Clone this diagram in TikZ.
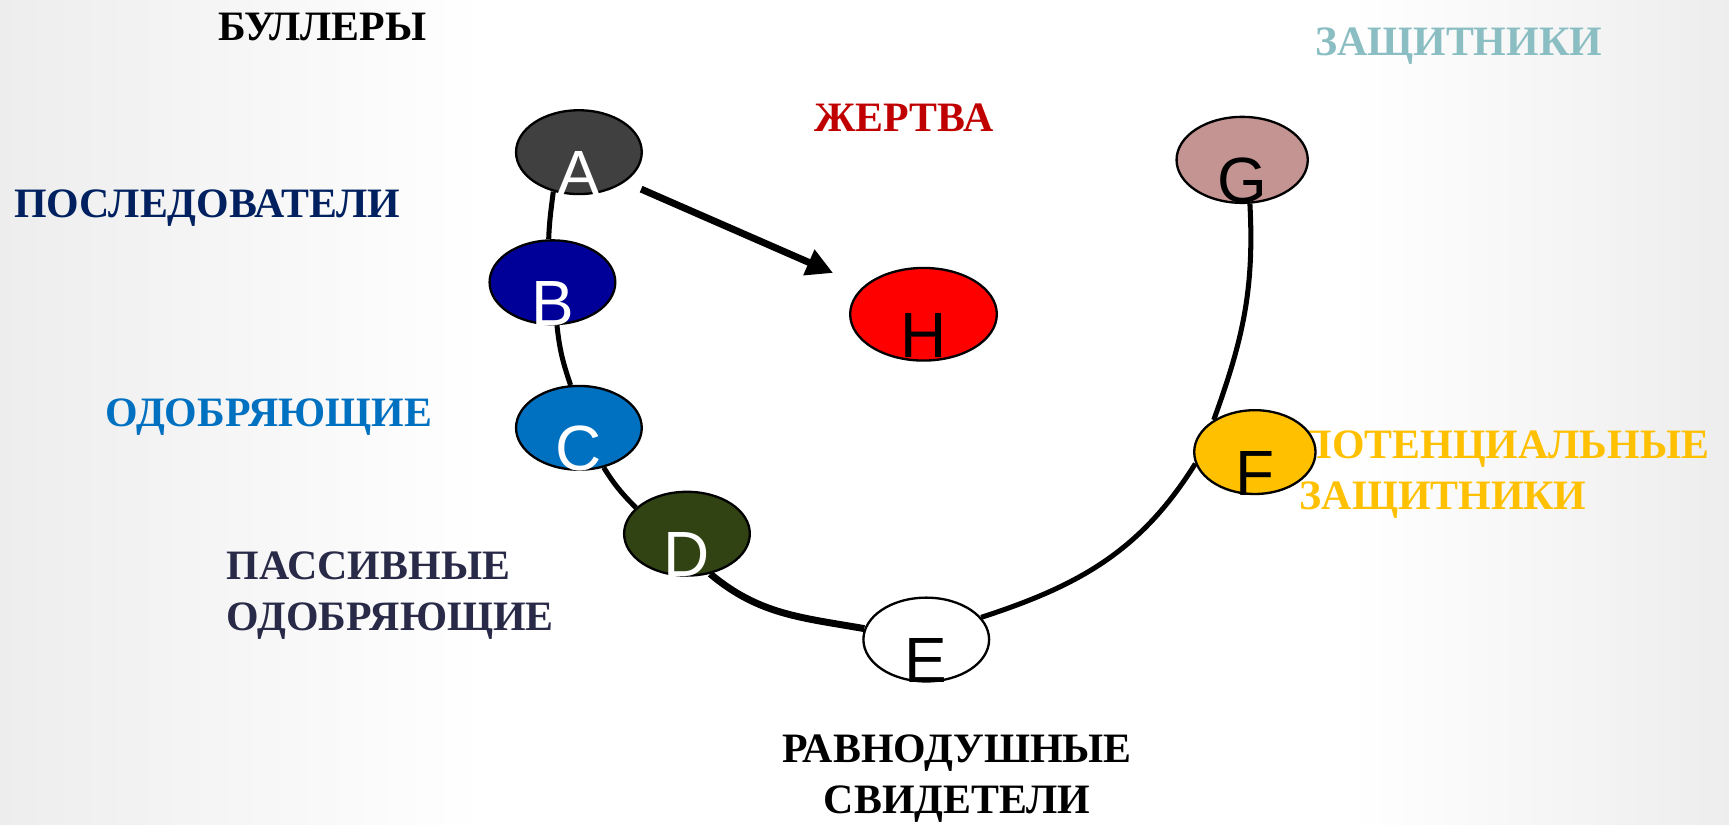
\documentclass[tikz,border=0pt]{standalone}
\usepackage{fontspec}
\setmainfont{Liberation Serif}
\newfontfamily\arialfont{Liberation Sans}
\usetikzlibrary{shapes.geometric,arrows.meta}

\definecolor{bully}{RGB}{64,64,64}
\definecolor{follow}{RGB}{0,0,153}
\definecolor{approve}{RGB}{0,112,192}
\definecolor{passive}{RGB}{50,67,19}
\definecolor{defend}{RGB}{196,148,146}
\definecolor{potent}{RGB}{255,192,0}
\definecolor{victim}{RGB}{255,0,0}
\definecolor{victimtxt}{RGB}{192,0,0}
\definecolor{followtxt}{RGB}{0,32,96}
\definecolor{passivetxt}{RGB}{40,42,72}
\definecolor{defendtxt}{RGB}{138,190,195}

\pgfdeclarehorizontalshading{slide}{100bp}{color(0bp)=(black!7); color(25bp)=(black!7); color(39bp)=(white); color(64bp)=(white); color(75bp)=(black!7); color(100bp)=(black!7)}

\tikzset{
  pers/.style={ellipse, draw=black, line width=0.6pt, minimum width=1.14cm, minimum height=0.76cm, inner sep=0pt},
  ltr/.style={font=\arialfont\fontsize{16.5}{16.5}\selectfont, inner sep=0pt, yshift=-0.19cm},
  lbl/.style={font=\bfseries\fontsize{10.8}{13}\selectfont, inner sep=0pt},
  link/.style={line width=1.3pt},
  push/.style={line width=1.8pt, -{Triangle[length=0.24cm,width=0.24cm]}, shorten <=0.16cm, shorten >=0.3cm}
}

\begin{document}
\begin{tikzpicture}
\shade [shading=slide] (0,0) rectangle (15.68,7.48);
\useasboundingbox (0,0) rectangle (15.68,7.48);

% labels
\node [lbl, anchor=base west] (bul) at (1.97, 7.11) {БУЛЛЕРЫ};
\node [lbl, anchor=base west, text=defendtxt] (def) at (11.92, 6.98) {ЗАЩИТНИКИ};
\node [lbl, anchor=base west, text=victimtxt] (vic) at (7.38, 6.29) {ЖЕРТВА};
\node [lbl, anchor=base west, text=followtxt] (fol) at (0.12, 5.51) {ПОСЛЕДОВАТЕЛИ};
\node [lbl, anchor=base west, text=approve] (app) at (0.95, 3.61) {ОДОБРЯЮЩИЕ};
\node [lbl, anchor=west, align=left, text=passivetxt] (pas) at (2.05, 2.08) {ПАССИВНЫЕ\\ОДОБРЯЮЩИЕ};
\node [lbl, align=center] (ind) at (8.68, 0.42) {РАВНОДУШНЫЕ\\СВИДЕТЕЛИ};
\node [lbl, anchor=west, align=left, text=potent] (pot) at (11.78, 3.175) {ПОТЕНЦИАЛЬНЫЕ\\ЗАЩИТНИКИ};

% roles
\node [pers, fill=bully, label={[ltr, white]center:A}] (A) at (5.25, 6.10) {};
\node [pers, fill=follow, label={[ltr, white]center:B}] (B) at (5.01, 4.92) {};
\node [pers, fill=approve, label={[ltr, white]center:C}] (C) at (5.25, 3.60) {};
\node [pers, fill=passive, label={[ltr, white]center:D}] (D) at (6.23, 2.64) {};
\node [pers, fill=white, label={[ltr]center:E}] (E) at (8.40, 1.68) {};
\node [pers, fill=potent, minimum width=1.10cm, label={[ltr]center:F}] (F) at (11.38, 3.38) {};
\node [pers, fill=defend, minimum width=1.19cm, minimum height=0.78cm, label={[ltr]center:G}] (G) at (11.265, 6.03) {};
\node [pers, fill=victim, minimum width=1.33cm, minimum height=0.84cm, label={[ltr]center:H}] (H) at (8.375, 4.63) {};

\draw [link, out=-97, in=88] (A.-123) to (B.95);
\draw [link, out=-84, in=109] (B.-84) to (C.101);
\draw [link, out=-58, in=135] (C.-58) to (D.153);
\draw [link, line width=1.8pt, out=-40, in=170] (D.-60) to (E.170);
\draw [link, out=18, in=-122] (E.22) to (F.-169);
\draw [link, out=70, in=-87] (F.142) to (G.-80);

\draw [push] (A.-33) to (H.155);
\end{tikzpicture}
\end{document}
